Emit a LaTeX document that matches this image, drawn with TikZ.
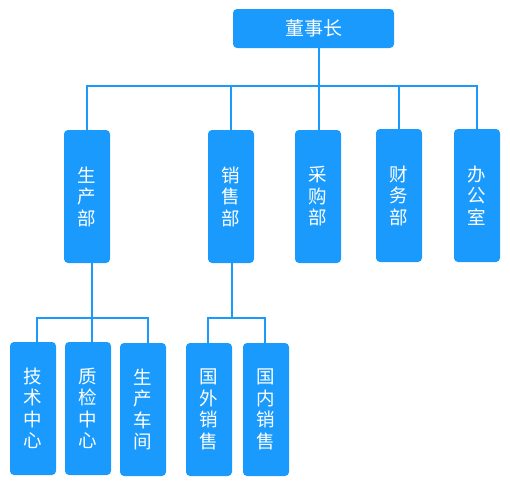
\documentclass[tikz,border=0pt]{standalone}
\usepackage{fontspec}
\newfontfamily\cjk{Noto Sans CJK SC}
\definecolor{boxblue}{RGB}{26,154,252}
\tikzset{
  org/.style={fill=boxblue, draw=none, rounded corners=4pt, text=white, inner sep=0pt, font=\cjk\fontsize{18.5}{21.5}\selectfont, align=center},
  vbox/.style={org, minimum width=46pt, minimum height=133pt},
  link/.style={draw=boxblue, line width=2pt}
}
\begin{document}
\begin{tikzpicture}[x=1pt,y=-1pt]
\useasboundingbox (0,0) rectangle (510,491);
\node[org, minimum width=161pt, minimum height=39pt, font=\cjk\fontsize{19}{22}\selectfont] (top) at (313.5,28.5) {董事长};
\node[vbox] (scb) at (87,196.5) {生\\产\\部};
\node[vbox] (xsb) at (231,196.5) {销\\售\\部};
\node[vbox] (cgb) at (318,196.5) {采\\购\\部};
\node[vbox] (cwb) at (399,195.5) {财\\务\\部};
\node[vbox] (bgs) at (477,195.5) {办\\公\\室};
\node[vbox] (jszx) at (33,408.5) {技\\术\\中\\心};
\node[vbox] (zjzx) at (88,408.5) {质\\检\\中\\心};
\node[vbox] (sccj) at (143,409.5) {生\\产\\车\\间};
\node[vbox] (gwxs) at (209,409.5) {国\\外\\销\\售};
\node[vbox] (gnxs) at (266,409.5) {国\\内\\销\\售};
% level 1 -> 2
\coordinate (j1) at (319,86);
\draw[link] (top.south -| j1) -- (j1);
\draw[link] (scb.north) |- (j1);
\draw[link] (bgs.north) |- (j1);
\draw[link] (xsb.north) -- (xsb.north |- j1);
\draw[link] (cgb.north -| j1) -- (j1);
\draw[link] (cwb.north) -- (cwb.north |- j1);
% 生产部 -> children
\coordinate (j2) at (92,318);
\draw[link] (scb.south -| j2) -- (j2);
\draw[link] ([xshift=4pt]jszx.north) |- (j2);
\draw[link] ([xshift=5pt]sccj.north) |- (j2);
\draw[link] (zjzx.north -| j2) -- (j2);
% 销售部 -> children
\coordinate (j3) at (232,318);
\draw[link] (xsb.south -| j3) -- (j3);
\draw[link] ([xshift=-1pt]gwxs.north) |- (j3);
\draw[link] ([xshift=-1pt]gnxs.north) |- (j3);
\end{tikzpicture}
\end{document}
